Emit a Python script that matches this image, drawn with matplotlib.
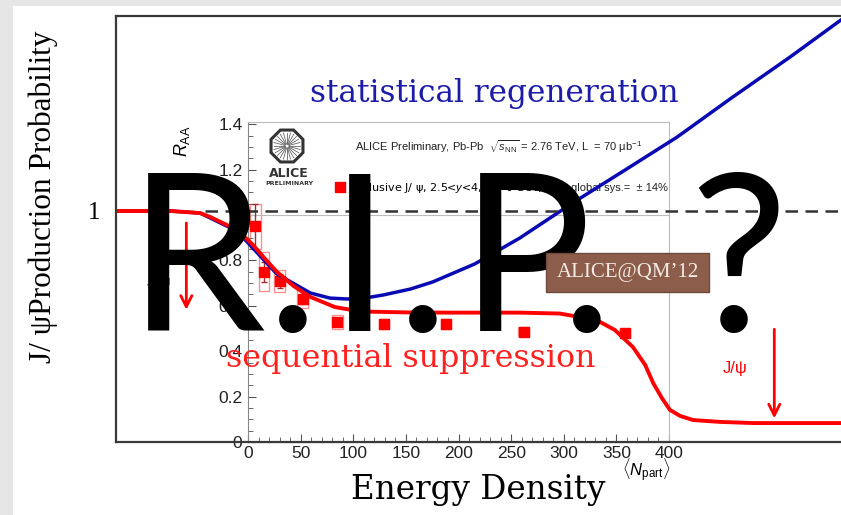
import numpy as np
import matplotlib.pyplot as plt
import matplotlib.patches as patches
from matplotlib.ticker import MultipleLocator, FuncFormatter

plt.rcParams['mathtext.fontset'] = 'custom'
plt.rcParams['mathtext.rm'] = 'Liberation Sans'
plt.rcParams['mathtext.it'] = 'Liberation Sans:italic'

# sketch curves: energy density (arb. units) vs J/psi production probability
supp_x = [0.0, 0.75, 1.16, 1.30, 1.67, 1.89, 2.05, 2.22, 2.45, 2.68, 3.02, 3.37, 4.0, 4.61,
          5.57, 6.12, 6.47, 6.68, 6.88, 7.13, 7.30, 7.41, 7.53, 7.64, 7.78, 7.96, 8.33, 8.79, 10.0]
supp_y = [1.0, 1.0, 0.991, 0.974, 0.918, 0.853, 0.795, 0.736, 0.675, 0.628, 0.584, 0.565, 0.561, 0.560,
          0.560, 0.556, 0.537, 0.519, 0.485, 0.411, 0.333, 0.255, 0.190, 0.139, 0.113, 0.095, 0.087, 0.082, 0.082]
regen_x = [0.0, 0.75, 1.16, 1.67, 2.22, 2.68, 2.95, 3.19, 3.43, 3.68, 4.06, 4.37, 4.95, 5.57,
           6.30, 7.02, 7.74, 8.47, 9.30, 10.0]
regen_y = [1.0, 1.0, 0.991, 0.913, 0.727, 0.645, 0.623, 0.619, 0.623, 0.636, 0.662, 0.693, 0.771, 0.883,
           1.035, 1.177, 1.320, 1.485, 1.667, 1.827]

# arrows on the sketch
arrow_x = [0.97, 9.08]
arrow_top = [0.96, 0.50]
arrow_bottom = [0.56, 0.09]

# ALICE inset: inclusive J/psi R_AA vs <Npart>
npart = [7, 15, 30, 52, 85, 129, 188, 262, 358]
raa = [0.95, 0.75, 0.71, 0.63, 0.53, 0.52, 0.52, 0.485, 0.48]
raa_stat = [0.10, 0.045, 0.03, 0.02, 0.015, 0.01, 0.01, 0.01, 0.01]
raa_sys = [0.10, 0.085, 0.05, 0.04, 0.03, 0.02, 0.02, 0.02, 0.02]

# big overlay, one glyph at a time (pixel centre of each glyph)
rip_glyphs = ['R', '.', 'I', '.', 'P', '.', '?']
rip_centres = [197, 293, 360, 423, 526, 587, 738]

W, H = 841, 515


def fx(px):
    return px / W


def fy(py):
    return 1 - py / H


fig = plt.figure(figsize=(W / 100, H / 100), dpi=100)
fig.patch.set_facecolor('#e6e6e6')
fig.add_artist(patches.Rectangle((fx(13), 0), 1 - fx(13), fy(6), transform=fig.transFigure,
                                 fc='white', ec='none', zorder=-5))

# ---- inset (ALICE preliminary) ----
ax2 = fig.add_axes([fx(248), fy(442), fx(669) - fx(248), fy(122) - fy(442)], zorder=1)
ax2.patch.set_visible(False)
ax2.set_xlim(0, 400)
ax2.set_ylim(0, 1.41)
ax2.axhline(1, color='#bbbbbb', lw=0.8)
for n, r, s in zip(npart, raa, raa_sys):
    ax2.add_patch(patches.Rectangle((n - 5, r - s), 10, 2 * s, fill=False, ec='#ff8f8f', lw=1))
ax2.errorbar(npart, raa, yerr=raa_stat, fmt='none', ecolor='#a03030', elinewidth=1, capsize=2)
ax2.plot(npart, raa, 's', color='#ff0000', ms=7, ls='none',
         label='Inclusive J/ ψ, 2.5<$y$<4, $p_{\\rm T}$>0 GeV/$c$')
ax2.legend(loc='upper left', bbox_to_anchor=(0.195, 0.83), frameon=False, fontsize=8,
           handlelength=1.0, handletextpad=0.6, borderaxespad=0)
ax2.text(307, 1.12, 'global sys.=  ± 14%', fontsize=8, family='Liberation Sans', va='center', color='#222222')
ax2.text(238, 1.30, 'ALICE Preliminary, Pb-Pb  $\\sqrt{s_{\\rm NN}}$ = 2.76 TeV, L  = 70 μb$^{-1}$',
         fontsize=8, family='Liberation Sans', ha='center', va='center', color='#222222')
ax2.text(39, 1.185, 'ALICE', fontsize=9, family='DejaVu Sans', weight='bold', ha='center', va='center', color='#333333')
ax2.text(39, 1.14, 'PRELIMINARY', fontsize=4.5, family='DejaVu Sans', weight='bold', ha='center', va='center', color='#333333')

ax2.xaxis.set_major_locator(MultipleLocator(50))
ax2.xaxis.set_minor_locator(MultipleLocator(10))
ax2.yaxis.set_major_locator(MultipleLocator(0.2))
ax2.yaxis.set_minor_locator(MultipleLocator(0.05))
ax2.yaxis.set_major_formatter(FuncFormatter(lambda v, p: f'{v:g}'))
ax2.tick_params(which='both', direction='in', colors='#555555', labelcolor='#222222', labelsize=12.5)
ax2.tick_params(which='major', length=6)
ax2.tick_params(which='minor', length=3.5)
ax2.tick_params(axis='y', pad=4)
ax2.tick_params(axis='x', pad=3)
for lab in ax2.get_xticklabels() + ax2.get_yticklabels():
    lab.set_family('Liberation Sans')
ax2.spines['left'].set_color('#888888')
ax2.spines['top'].set_color('#bbbbbb')
ax2.spines['right'].set_color('#bbbbbb')
ax2.spines['bottom'].set_color('#444444')
ax2.set_ylabel('$R_{\\rm AA}$', fontsize=13)
ax2.yaxis.set_label_coords(-0.133, 0.94)
ax2.set_xlabel('$\\langle N_{\\rm part}\\rangle$', fontsize=12)
ax2.xaxis.set_label_coords(0.945, -0.045)

# ALICE logo
axl = fig.add_axes([fx(268), fy(165), 38 / W, 38 / H], zorder=1.5)
axl.set_xlim(-1.1, 1.1)
axl.set_ylim(-1.1, 1.1)
axl.set_aspect('equal')
axl.axis('off')
axl.add_patch(patches.RegularPolygon((0, 0), 8, radius=1.0, orientation=np.pi / 8,
                                     fill=False, ec='#333333', lw=2.2))
for a in np.linspace(0, 2 * np.pi, 24, endpoint=False):
    axl.plot([0.12 * np.cos(a), 0.78 * np.cos(a)], [0.12 * np.sin(a), 0.78 * np.sin(a)],
             color='#666666', lw=0.6)

# ---- outer sketch ----
ax = fig.add_axes([fx(116), fy(442), 1 - fx(116), fy(16) - fy(442)], zorder=2)
ax.patch.set_visible(False)
ax.set_xlim(0, 10)
ax.set_ylim(0, 1.844)
ax.plot(regen_x, regen_y, color='#0a0ab4', lw=2.5)
ax.plot(supp_x, supp_y, color='#ff0000', lw=2.8)
ax.axhline(1, xmin=0.123, color='#333333', lw=1.8, ls=(0, (5, 3)))
for xa, yt, yb in zip(arrow_x, arrow_top, arrow_bottom):
    ax.annotate('', xy=(xa, yb), xytext=(xa, yt),
                arrowprops=dict(arrowstyle='->', color='#ff0000', lw=2, mutation_scale=20))
for side in ['left', 'top', 'bottom']:
    ax.spines[side].set_color('#3a3a3a')
    ax.spines[side].set_linewidth(1.6)
ax.spines['right'].set_visible(False)
ax.set_xticks([])
ax.set_yticks([1])
ax.set_yticklabels(['1'], fontsize=18, family='Liberation Serif')
ax.tick_params(axis='y', length=0, pad=11)
ax.set_xlabel('Energy Density', family='DejaVu Serif', fontsize=23.5, labelpad=23)
ax.set_ylabel('J/ ψProduction Probability', family='Liberation Serif', fontsize=22.5)
ax.yaxis.set_label_coords(-0.080, 0.575)

# annotations
fig.text(fx(494), fy(102), 'statistical regeneration', family='DejaVu Serif', fontsize=22.5,
         color='#1c1ca8', ha='center', va='baseline', zorder=5)
fig.text(fx(411), fy(367), 'sequential suppression', family='DejaVu Serif', fontsize=22.8,
         color='#ff2020', ha='center', va='baseline', zorder=5)
fig.text(fx(723), fy(373), 'J/ψ', family='Liberation Sans', fontsize=12, color='#ff0000',
         ha='left', va='baseline', zorder=5)
fig.text(fx(172), fy(287), 'J/ψ', family='Liberation Sans', fontsize=12, color='#ff0000',
         ha='right', va='baseline', zorder=5)

for g, cx in zip(rip_glyphs, rip_centres):
    fig.text(fx(cx), fy(331), g, family='Lato', fontsize=158, color='black',
             ha='center', va='baseline', zorder=10)

fig.add_artist(patches.Rectangle((fx(546), fy(292)), fx(709) - fx(546), fy(253) - fy(292),
                                 transform=fig.transFigure, fc='#8d5d4c', ec='#6e4a3c', lw=1, zorder=11))
fig.text(fx(627.5), fy(273), 'ALICE@QM’12', family='Liberation Serif', fontsize=15,
         color='#f3ebe2', ha='center', va='center', zorder=12)

fig.savefig('out.png', dpi=100, facecolor=fig.get_facecolor())
